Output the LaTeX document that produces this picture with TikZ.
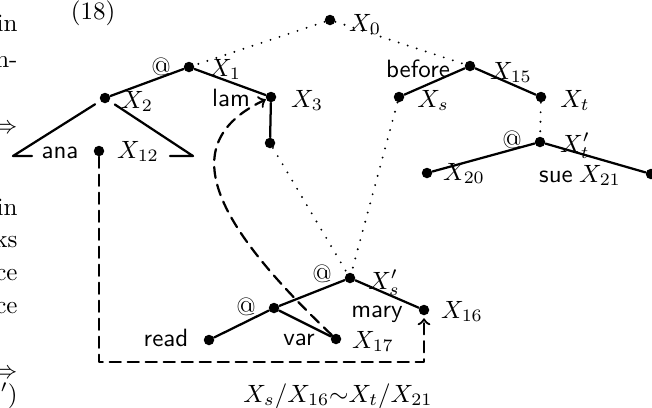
\documentclass[tikz,border=0pt]{standalone}
\begin{document}
\begin{tikzpicture}[x=0.4pt, y=-0.4pt, line cap=round, line join=round,
    dot/.style={circle, fill, inner sep=0pt, minimum size=4.2pt},
    edge/.style={line width=0.9pt},
    link/.style={line width=0.85pt, dash pattern=on 0pt off 3.8pt},
    move/.style={line width=0.9pt, dash pattern=on 4.4pt off 2.8pt, ->},
    lbl/.style={anchor=base, inner sep=0pt},
    word/.style={lbl, font=\sffamily}]
  \useasboundingbox (0,0) rectangle (652,407);
  % edge of the next column
  \foreach \t/\y in {in/31, n-/67, $\Rightarrow$/133, in/215, ks/247, ce/280, ce/313, $\Rightarrow$/378, $')$/402}
    \node[anchor=base east, inner sep=0pt] (m\y) at (18,\y) {\t};
  \node[lbl] (num) at (93,19) {(18)};
  % dots
  \node[dot] (x0) at (330,20) {};
  \node[dot] (x1) at (189,67) {};
  \node[dot] (x2) at (105,98) {};
  \node[dot] (x3) at (271,97) {};
  \node[dot] (x3b) at (270,143) {};
  \node[dot] (x12) at (99,151) {};
  \node[dot] (x15) at (470,66) {};
  \node[dot] (xs) at (399,97) {};
  \node[dot] (xt) at (541,97) {};
  \node[dot] (xtp) at (540,142) {};
  \node[dot] (x20) at (427,173) {};
  \node[dot] (x21) at (651,174) {};
  \node[dot] (xsp) at (350,278) {};
  \node[dot] (x16) at (424,310) {};
  \node[dot] (app) at (274,308) {};
  \node[dot] (rd) at (209,340) {};
  \node[dot] (x17) at (336,339) {};
  \coordinate (tl) at (13,156);
  \coordinate (tls) at (32,156);
  \coordinate (tr) at (193,156);
  \coordinate (trs) at (170,156);
  \coordinate (c1) at (99,362);
  \coordinate (c2) at (424,362);
  % labels
  \node[lbl] (l0) at (365,31) {$X_0$};
  \node[lbl] (a1) at (161,75) {@};
  \node[lbl] (l1) at (225,76) {$X_1$};
  \node[lbl] (l2) at (137,108) {$X_2$};
  \node[word] (wlam) at (231,106) {lam};
  \node[lbl] (l3) at (307,107) {$X_3$};
  \node[word] (wana) at (60,158) {ana};
  \node[lbl] (l12) at (138,158) {$X_{12}$};
  \node[word] (wbef) at (418,77) {before};
  \node[lbl] (l15) at (511,79) {$X_{15}$};
  \node[lbl] (ls) at (433,107) {$X_s$};
  \node[lbl] (lt) at (575,107) {$X_t$};
  \node[lbl] (at) at (512,148) {@};
  \node[lbl] (ltp) at (575,152) {$X'_t$};
  \node[lbl] (l20) at (464,180) {$X_{20}$};
  \node[word] (wsue) at (556,182) {sue};
  \node[lbl] (l21) at (600,182) {$X_{21}$};
  \node[lbl] (as) at (322,282) {@};
  \node[lbl] (lsp) at (384,289) {$X'_s$};
  \node[word] (wmary) at (377,317) {mary};
  \node[lbl] (l16) at (462,318) {$X_{16}$};
  \node[lbl] (ain) at (246,315) {@};
  \node[word] (wread) at (166,346) {read};
  \node[word] (wvar) at (299,345) {var};
  \node[lbl] (l17) at (373,348) {$X_{17}$};
  \node[lbl] (cap) at (338,402) {$X_s/X_{16}{\sim}X_t/X_{21}$};
  % tree edges
  \draw[edge] (x1) -- (x2);
  \draw[edge] (x1) -- (x3);
  \draw[edge] (x3) -- (x3b);
  \draw[edge, shorten <=2.4pt] (x2) -- (tl) -- (tls);
  \draw[edge, shorten <=2.4pt] (x2) -- (tr) -- (trs);
  \draw[edge] (x15) -- (xs);
  \draw[edge] (x15) -- (xt);
  \draw[edge] (xtp) -- (x20);
  \draw[edge] (xtp) -- (x21);
  \draw[edge] (xsp) -- (app);
  \draw[edge] (xsp) -- (x16);
  \draw[edge] (app) -- (rd);
  \draw[edge] (app) -- (x17);
  % dotted links
  \draw[link] (x0) -- (x1);
  \draw[link] (x0) -- (x15);
  \draw[link] (x3b) -- (xsp);
  \draw[link] (xs) -- (xsp);
  \draw[link] (xt) -- (xtp);
  % dashed moves
  \draw[move, shorten >=1pt] (x12) -- (c1) -- (c2) -- (x16);
  \draw[move] (x17) .. controls (205,215) and (178,141) .. (x3);
\end{tikzpicture}
\end{document}
